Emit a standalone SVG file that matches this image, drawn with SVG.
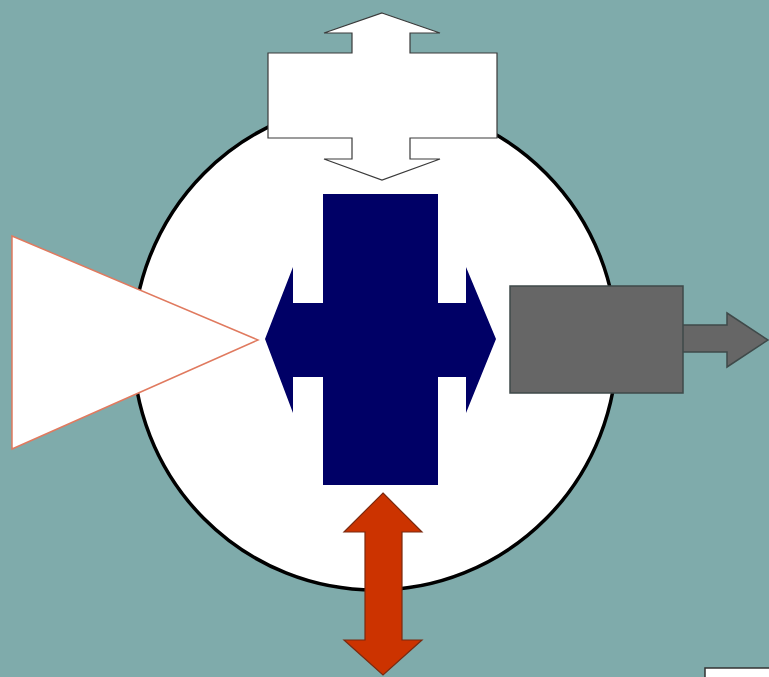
<svg xmlns="http://www.w3.org/2000/svg" width="769" height="677" viewBox="0 0 769 677">
<style>
.bg{fill:#7fabab}
.disc{fill:#ffffff;stroke:#000000;stroke-width:3.5}
.white{fill:#ffffff;stroke:#3a3a3a;stroke-width:1.2}
.navy{fill:#000066;stroke:none}
.tri{fill:#ffffff;stroke:#e07a5f;stroke-width:1.5}
.gray{fill:#666666;stroke:#3f4a4a;stroke-width:1.5}
.red{fill:#cc3300;stroke:#7a2a10;stroke-width:1.2}
</style>
<rect class="bg" x="0" y="0" width="769" height="677"/>
<g id="disc"><ellipse class="disc" cx="375" cy="346" rx="242" ry="244"/></g>
<g id="connectors">
<path id="top-arrow" class="white" d="M382,13 L440,33 L410,33 L410,53 L497,53 L497,138 L410,138 L410,159 L440,159 L382,180 L324,159 L352,159 L352,138 L268,138 L268,53 L352,53 L352,33 L324,33 Z"/>
<path id="right-arrow" class="gray" d="M683,325 L727,325 L727,313 L768,340 L727,367 L727,352 L683,352"/>
<path id="bottom-arrow" class="red" d="M383,493 L422,532 L402,532 L402,640 L422,640 L383,675 L344,640 L365,640 L365,532 L344,532 Z"/>
</g>
<g id="centre"><path class="navy" d="M323,194 L438,194 L438,303 L466,303 L466,267 L496,339 L466,413 L466,377 L438,377 L438,485 L323,485 L323,377 L293,377 L293,413 L265,339 L293,267 L293,303 L323,303 Z"/></g>
<g id="input"><path class="tri" d="M12,236 L258,340 L12,449 Z"/></g>
<g id="output"><rect class="gray" x="510" y="286" width="173" height="107"/></g>
<g id="corner"><rect x="705" y="668" width="70" height="20" fill="#ffffff" stroke="#333333" stroke-width="1.5"/></g>
</svg>
